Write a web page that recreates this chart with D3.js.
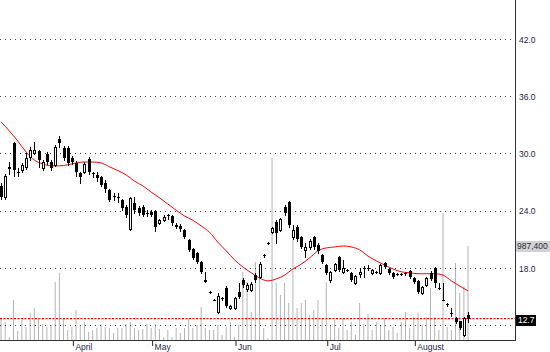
<!DOCTYPE html>
<html>
<head>
<meta charset="utf-8">
<script src="https://cdn.jsdelivr.net/npm/d3@7"></script>
<style>
  html, body { margin: 0; padding: 0; background: #fff; }
  svg { display: block; font-family: "Liberation Sans", Arial, sans-serif; }
</style>
</head>
<body>
<div id="chart"></div>
<script>
// daily candles, index 0 = first bar on the left
const open = [
  26.6, 25.4, 28.6, 31.1, 28.1, 28.3, 28.6, 29.6, 30.0, 30.2,
  28.5, 29.9, 29.1, 28.8, 31.5, 30.6, 30.6, 29.5, 29.0, 27.9,
  28.1, 29.4, 27.9, 27.7, 27.5, 26.9, 26.2, 25.5, 25.4, 25.1,
  24.4, 22.1, 24.8, 24.3, 24.4, 23.8, 23.9, 24.0, 22.7, 23.0,
  23.5, 23.4, 22.5, 22.4, 22.0, 20.9, 20.0, 19.6, 18.6, 16.7,
  15.5, 14.7, 13.4, 14.85, 15.9, 13.8, 13.8, 15.5, 16.7, 15.8,
  15.7, 17.3, 17.1, 19.3, 20.6, 21.8, 22.8, 22.0, 24.4, 24.9,
  21.2, 22.3, 21.2, 19.9, 20.2, 21.2, 20.4, 19.4, 18.3, 16.7,
  17.8, 19.2, 17.6, 17.8, 17.5, 16.4, 17.4, 18.0, 18.0, 17.5,
  17.6, 17.5, 18.5, 17.9, 17.5, 17.4, 17.4, 17.5, 17.7, 17.0,
  16.6, 15.4, 16.2, 17.5, 18.0, 15.9, 14.7, 14.2, 13.3, 12.8,
  12.4, 11.0, 13.1
];
const high = [
  26.9, 27.8, 29.1, 31.2, 28.5, 29.0, 30.0, 30.7, 31.2, 30.4,
  29.3, 30.1, 29.3, 30.9, 31.8, 30.8, 30.8, 29.7, 29.2, 28.1,
  29.1, 29.6, 28.1, 28.0, 27.6, 27.2, 26.3, 25.9, 25.9, 25.2,
  24.6, 25.4, 25.4, 24.5, 24.6, 24.1, 24.1, 24.1, 23.1, 23.5,
  23.7, 23.6, 22.7, 22.6, 22.1, 21.0, 20.1, 19.7, 18.7, 17.6,
  15.6, 14.8, 15.4, 15.0, 16.1, 14.1, 15.0, 16.4, 16.9, 16.4,
  16.5, 17.5, 18.6, 19.5, 20.7, 22.3, 23.0, 23.2, 24.6, 25.0,
  22.5, 22.5, 21.3, 20.6, 21.0, 21.4, 20.6, 19.5, 18.4, 17.7,
  18.5, 19.3, 18.8, 17.9, 17.6, 17.3, 18.0, 18.2, 18.3, 17.9,
  17.7, 18.4, 18.6, 18.0, 17.6, 17.5, 17.5, 17.6, 17.8, 17.1,
  16.7, 16.1, 17.1, 17.7, 18.1, 16.4, 16.4, 14.3, 13.8, 12.9,
  12.5, 12.9, 13.4
];
const low = [
  25.2, 25.2, 27.8, 27.6, 27.6, 28.1, 28.4, 29.3, 29.9, 28.6,
  28.3, 28.9, 28.3, 28.7, 30.7, 29.3, 28.8, 28.9, 27.6, 26.9,
  27.9, 27.8, 27.5, 27.1, 26.6, 26.0, 25.0, 25.1, 24.9, 24.1,
  23.3, 22.0, 23.8, 23.6, 23.4, 23.4, 23.4, 21.9, 22.6, 22.9,
  23.1, 22.5, 22.2, 21.9, 21.1, 19.8, 18.9, 18.5, 17.5, 16.5,
  15.4, 14.6, 13.3, 14.7, 13.9, 13.7, 13.7, 14.9, 16.0, 15.6,
  15.6, 16.5, 16.9, 19.2, 20.5, 21.7, 20.6, 21.9, 23.6, 22.3,
  21.0, 20.8, 20.1, 19.2, 20.0, 20.0, 19.6, 18.5, 17.4, 16.5,
  17.7, 17.7, 17.5, 17.7, 16.6, 16.3, 17.1, 17.1, 17.8, 17.4,
  17.5, 17.4, 18.0, 17.4, 17.0, 17.3, 17.3, 17.3, 17.0, 16.4,
  15.4, 15.3, 16.1, 16.7, 16.0, 15.8, 14.6, 14.0, 13.0, 12.2,
  11.6, 10.9, 12.3
];
const close = [
  25.4, 27.6, 28.4, 28.3, 28.0, 28.8, 29.5, 30.4, 30.4, 29.3,
  29.1, 29.1, 28.5, 30.7, 31.1, 29.5, 29.0, 29.1, 28.1, 27.5,
  28.9, 28.1, 27.8, 27.4, 26.7, 26.3, 25.1, 25.4, 25.3, 24.3,
  23.6, 25.3, 24.1, 23.8, 23.6, 23.7, 23.6, 22.3, 23.0, 23.3,
  23.4, 22.7, 22.3, 22.1, 21.2, 19.9, 19.0, 18.6, 17.6, 16.5,
  15.5, 14.65, 15.1, 14.9, 14.0, 14.0, 14.9, 15.0, 16.2, 16.2,
  16.3, 16.7, 18.4, 19.4, 20.6, 22.2, 21.7, 23.1, 23.8, 22.5,
  22.0, 21.0, 20.2, 20.2, 20.8, 20.2, 19.8, 18.6, 17.5, 17.6,
  18.4, 17.8, 18.0, 17.8, 16.7, 17.2, 17.6, 18.0, 18.0, 17.8,
  17.6, 18.3, 18.1, 17.5, 17.1, 17.4, 17.4, 17.4, 17.1, 16.5,
  15.5, 16.0, 17.0, 16.8, 16.4, 15.9, 14.6, 14.1, 13.3, 12.3,
  11.7, 12.8, 12.7
];
const volume = [
  221000, 189000, 32000, 420000, 95000, 210000, 137000, 284000, 336000, 221000,
  168000, 137000, 158000, 609000, 704000, 221000, 105000, 137000, 315000, 158000,
  189000, 84000, 105000, 126000, 168000, 137000, 126000, 74000, 126000, 126000,
  168000, 189000, 126000, 105000, 116000, 168000, 126000, 168000, 116000, 32000,
  105000, 32000, 126000, 74000, 126000, 221000, 126000, 158000, 347000, 126000,
  105000, 105000, 158000, 53000, 137000, 189000, 32000, 158000, 714000, 609000,
  294000, 819000, 788000, 126000, 21000, 1912000, 599000, 473000, 599000, 389000,
  1050000, 336000, 389000, 420000, 263000, 315000, 420000, 231000, 609000, 158000,
  210000, 126000, 231000, 105000, 189000, 53000, 389000, 168000, 273000, 105000,
  189000, 147000, 231000, 105000, 137000, 74000, 189000, 294000, 126000, 242000,
  284000, 158000, 242000, 546000, 242000, 105000, 1334000, 137000, 105000, 809000,
  494000, 567000, 987400
];

// moving average (bar index, price)
const maIndex = [0, 2, 4, 6, 8, 10, 12, 14, 16, 18, 20, 22, 24, 26, 28, 30, 32, 34, 36, 38,
  40, 42, 44, 46, 48, 50, 52, 54, 56, 58, 60, 62, 64, 66, 68, 70, 72, 74, 76, 78,
  80, 82, 84, 86, 88, 90, 92, 94, 96, 98, 100, 102, 104, 106, 108, 110, 112];
const maValue = [33.3, 32.35, 31.3, 30.15, 29.3, 28.9, 28.7, 28.7, 28.8, 29.0, 29.1, 29.1, 29.0, 28.6, 28.2, 27.75, 27.1, 26.6, 25.95, 25.35,
  24.7, 24.05, 23.45, 23.0, 22.4, 21.75, 20.7, 19.8, 18.85, 18.1, 17.5, 16.95, 16.65, 16.85, 17.25, 17.9, 18.4, 19.05, 19.8, 20.1,
  20.2, 20.3, 20.2, 19.9, 19.25, 18.75, 18.3, 17.9, 17.6, 17.5, 17.4, 17.4, 17.4, 17.25, 16.65, 16.1, 15.6];

const monthIndex = [17, 36, 56, 78, 99];
const monthLabels = ["April", "May", "Jun", "Jul", "August"];
const priceTicks = [18, 24, 30, 36, 42];
const gridLevels = [12, 18, 24, 30, 36, 42];

const width = 550, height = 352;
const plotRight = 515, plotBottom = 340;
const labelFont = "8.5px";

const svg = d3.select("#chart").append("svg")
  .attr("width", width)
  .attr("height", height);

const x = d3.scaleLinear().domain([-0.24, 123.26]).range([0, plotRight]);
const y = d3.scaleLinear().domain([10.46, 46.06]).range([plotBottom, 0]);
const yVol = d3.scaleLinear().domain([0, 987400]).range([plotBottom, 246]);

const px = i => Math.round(x(i));
const bars = d3.range(open.length);

// volume
svg.append("g")
  .selectAll("line")
  .data(bars)
  .join("line")
  .attr("x1", i => x(i))
  .attr("x2", i => x(i))
  .attr("y1", plotBottom)
  .attr("y2", i => yVol(volume[i]))
  .attr("stroke", "#b4b4b4")
  .attr("stroke-width", 1);

// dotted grid
svg.append("g")
  .selectAll("line")
  .data(gridLevels)
  .join("line")
  .attr("x1", 0)
  .attr("x2", plotRight)
  .attr("y1", d => Math.round(y(d)) + 0.5)
  .attr("y2", d => Math.round(y(d)) + 0.5)
  .attr("stroke", "#444")
  .attr("stroke-dasharray", "1,4");

// last price line
const last = close[close.length - 1];
svg.append("line")
  .attr("x1", 0)
  .attr("x2", plotRight)
  .attr("y1", y(last))
  .attr("y2", y(last))
  .attr("stroke", "#ff0000")
  .attr("stroke-width", 1.3)
  .attr("stroke-dasharray", "2,1.5");

// moving average
svg.append("path")
  .datum(maIndex)
  .attr("fill", "none")
  .attr("stroke", "#ff0000")
  .attr("stroke-width", 1)
  .attr("d", d3.line()
    .x((d, k) => x(d))
    .y((d, k) => y(maValue[k]))
    .curve(d3.curveMonotoneX));

// candles
const candles = svg.append("g");
candles.selectAll("line")
  .data(bars)
  .join("line")
  .attr("x1", i => px(i) + 0.5)
  .attr("x2", i => px(i) + 0.5)
  .attr("y1", i => Math.round(y(high[i])))
  .attr("y2", i => Math.round(y(low[i])) + 1)
  .attr("stroke", "#000");

candles.selectAll("rect")
  .data(bars)
  .join("rect")
  .each(function (i) {
    const top = Math.round(y(Math.max(open[i], close[i])));
    const bot = Math.round(y(Math.min(open[i], close[i])));
    const r = d3.select(this);
    if (close[i] > open[i] && bot - top >= 2) {
      r.attr("x", px(i) - 0.5).attr("y", top + 0.5)
        .attr("width", 2).attr("height", bot - top)
        .attr("fill", "#fff").attr("stroke", "#000");
    } else {
      r.attr("x", px(i) - 1).attr("y", top)
        .attr("width", 3).attr("height", Math.max(1, bot - top))
        .attr("fill", "#000");
    }
  });

// frame
svg.append("line")
  .attr("x1", plotRight + 0.5).attr("x2", plotRight + 0.5)
  .attr("y1", 0).attr("y2", plotBottom + 1)
  .attr("stroke", "#333");
svg.append("line")
  .attr("x1", 0).attr("x2", plotRight + 1)
  .attr("y1", plotBottom + 0.5).attr("y2", plotBottom + 0.5)
  .attr("stroke", "#333");

// month axis
const xAxis = d3.axisBottom(x)
  .tickValues(monthIndex)
  .tickSize(5)
  .tickFormat((d, k) => monthLabels[k]);
const gx = svg.append("g")
  .attr("transform", `translate(1,${plotBottom + 1})`)
  .call(xAxis);
gx.select(".domain").remove();
gx.selectAll(".tick line").attr("stroke", "#222");
gx.selectAll(".tick text")
  .attr("text-anchor", "start")
  .attr("x", 2)
  .attr("y", 2.5)
  .attr("dy", "0.71em")
  .attr("fill", "#1c1c48")
  .style("font-size", labelFont)
  .style("font-family", "'Liberation Sans', Arial, sans-serif");

// price axis
const yAxis = d3.axisRight(y)
  .tickValues(priceTicks)
  .tickSize(0)
  .tickPadding(4)
  .tickFormat(d3.format(".1f"));
const gy = svg.append("g")
  .attr("transform", `translate(${plotRight},0.5)`)
  .call(yAxis);
gy.select(".domain").remove();
gy.selectAll(".tick text")
  .attr("fill", "#1c1c48")
  .style("font-size", labelFont)
  .style("font-family", "'Liberation Sans', Arial, sans-serif");

// last volume tag
const lastVol = volume[volume.length - 1];
const vy = Math.round(yVol(lastVol));
svg.append("rect")
  .attr("x", plotRight + 1).attr("y", vy - 5)
  .attr("width", 34).attr("height", 11)
  .attr("fill", "#d2d2d2");
svg.append("text")
  .attr("x", plotRight + 2).attr("y", vy + 0.5)
  .attr("dy", "0.35em")
  .attr("fill", "#2a2a40")
  .style("font-size", labelFont)
  .text(d3.format(",")(lastVol));

// last price tag
const ly = Math.round(y(last));
svg.append("rect")
  .attr("x", plotRight + 1).attr("y", ly - 4)
  .attr("width", 20).attr("height", 11)
  .attr("fill", "#000");
svg.append("text")
  .attr("x", plotRight + 3).attr("y", ly + 1.5)
  .attr("dy", "0.35em")
  .attr("fill", "#fff")
  .style("font-size", labelFont)
  .text(d3.format(".1f")(last));
</script>
</body>
</html>
